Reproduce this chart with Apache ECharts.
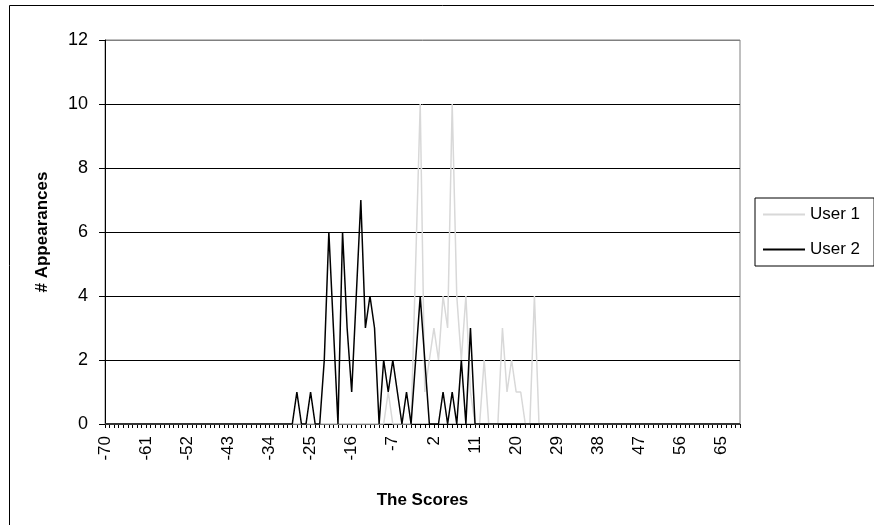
<!DOCTYPE html>
<html>
<head>
<meta charset="utf-8">
<script src="https://cdn.jsdelivr.net/npm/echarts@6/dist/echarts.min.js"></script>
<style>
  html, body { margin: 0; padding: 0; background: #fff; }
  #chart { width: 874px; height: 525px; }
</style>
</head>
<body>
<div id="chart"></div>
<script>
// scores on the x axis, -70 .. 69
const scores = [
  -70, -69, -68, -67, -66, -65, -64, -63, -62, -61,
  -60, -59, -58, -57, -56, -55, -54, -53, -52, -51,
  -50, -49, -48, -47, -46, -45, -44, -43, -42, -41,
  -40, -39, -38, -37, -36, -35, -34, -33, -32, -31,
  -30, -29, -28, -27, -26, -25, -24, -23, -22, -21,
  -20, -19, -18, -17, -16, -15, -14, -13, -12, -11,
  -10, -9, -8, -7, -6, -5, -4, -3, -2, -1,
  0, 1, 2, 3, 4, 5, 6, 7, 8, 9,
  10, 11, 12, 13, 14, 15, 16, 17, 18, 19,
  20, 21, 22, 23, 24, 25, 26, 27, 28, 29,
  30, 31, 32, 33, 34, 35, 36, 37, 38, 39,
  40, 41, 42, 43, 44, 45, 46, 47, 48, 49,
  50, 51, 52, 53, 54, 55, 56, 57, 58, 59,
  60, 61, 62, 63, 64, 65, 66, 67, 68, 69
];

const user1 = [
  0, 0, 0, 0, 0, 0, 0, 0, 0, 0,
  0, 0, 0, 0, 0, 0, 0, 0, 0, 0,
  0, 0, 0, 0, 0, 0, 0, 0, 0, 0,
  0, 0, 0, 0, 0, 0, 0, 0, 0, 0,
  0, 0, 0, 0, 0, 0, 0, 0, 0, 0,
  0, 0, 0, 0, 0, 0, 0, 0, 0, 0,
  0, 0, 1, 0, 0, 0, 0, 0, 5, 10,
  1, 2, 3, 2, 4, 3, 10, 4, 2, 4,
  1, 0, 0, 2, 0, 0, 0, 3, 1, 2,
  1, 1, 0, 0, 4, 0, 0, 0, 0, 0,
  0, 0, 0, 0, 0, 0, 0, 0, 0, 0,
  0, 0, 0, 0, 0, 0, 0, 0, 0, 0,
  0, 0, 0, 0, 0, 0, 0, 0, 0, 0,
  0, 0, 0, 0, 0, 0, 0, 0, 0, 0
];

const user2 = [
  0, 0, 0, 0, 0, 0, 0, 0, 0, 0,
  0, 0, 0, 0, 0, 0, 0, 0, 0, 0,
  0, 0, 0, 0, 0, 0, 0, 0, 0, 0,
  0, 0, 0, 0, 0, 0, 0, 0, 0, 0,
  0, 0, 1, 0, 0, 1, 0, 0, 2, 6,
  3, 0, 6, 3, 1, 4, 7, 3, 4, 3,
  0, 2, 1, 2, 1, 0, 1, 0, 2, 4,
  2, 0, 0, 0, 1, 0, 1, 0, 2, 0,
  3, 0, 0, 0, 0, 0, 0, 0, 0, 0,
  0, 0, 0, 0, 0, 0, 0, 0, 0, 0,
  0, 0, 0, 0, 0, 0, 0, 0, 0, 0,
  0, 0, 0, 0, 0, 0, 0, 0, 0, 0,
  0, 0, 0, 0, 0, 0, 0, 0, 0, 0,
  0, 0, 0, 0, 0, 0, 0, 0, 0, 0
];

const font = 'Liberation Sans, Arial, sans-serif';

var myChart = echarts.init(document.getElementById('chart'));
var option = {
    backgroundColor: '#fff',
    animation: false,
    graphic: [
        {
            // chart area frame, runs off the right and bottom edges
            type: 'rect',
            shape: { x: 9.5, y: 5.5, width: 875, height: 530 },
            style: { fill: 'none', stroke: '#000', lineWidth: 1 },
            z: -1
        }
    ],
    grid: {
        left: 105,
        top: 40,
        right: 134,
        bottom: 101,
        show: true,
        borderColor: '#808080',
        borderWidth: 1
    },
    legend: {
        data: ['User 1', 'User 2'],
        orient: 'vertical',
        left: 755,
        top: 198,
        padding: [8, 14, 8, 8],
        itemGap: 18,
        itemWidth: 42,
        itemHeight: 2,
        icon: 'rect',
        backgroundColor: '#fff',
        borderColor: '#000',
        borderWidth: 1,
        textStyle: { fontFamily: font, fontSize: 17, color: '#000' }
    },
    xAxis: {
        type: 'category',
        data: scores,
        boundaryGap: false,
        name: 'The Scores',
        nameLocation: 'middle',
        nameGap: 68,
        nameTextStyle: { fontFamily: font, fontSize: 17, fontWeight: 'bold', color: '#000' },
        axisLine: { lineStyle: { color: '#000', width: 1 } },
        axisTick: { interval: 0, length: 4, lineStyle: { color: '#000' } },
        axisLabel: {
            interval: 8,
            rotate: 90,
            margin: 12,
            fontFamily: font,
            fontSize: 17,
            color: '#000'
        },
        splitLine: { show: false }
    },
    yAxis: {
        type: 'value',
        min: 0,
        max: 12,
        interval: 2,
        name: '# Appearances',
        nameLocation: 'middle',
        nameGap: 54,
        nameRotate: 90,
        nameTextStyle: { fontFamily: font, fontSize: 17, fontWeight: 'bold', color: '#000' },
        axisLine: { show: true, lineStyle: { color: '#000', width: 1 } },
        axisTick: { show: true, length: 6, lineStyle: { color: '#000' } },
        axisLabel: { margin: 17, fontFamily: font, fontSize: 18, color: '#000' },
        splitLine: {
            lineStyle: {
                color: ['#000', '#000', '#000', '#000', '#000', '#000', '#808080'],
                width: 1
            }
        }
    },
    series: [
        {
            name: 'User 1',
            type: 'line',
            data: user1,
            symbol: 'none',
            lineStyle: { color: '#d8d8d8', width: 1.5 },
            itemStyle: { color: '#d8d8d8' }
        },
        {
            name: 'User 2',
            type: 'line',
            data: user2,
            symbol: 'none',
            lineStyle: { color: '#000', width: 1.5 },
            itemStyle: { color: '#000' }
        }
    ]
};
myChart.setOption(option);
</script>
</body>
</html>
